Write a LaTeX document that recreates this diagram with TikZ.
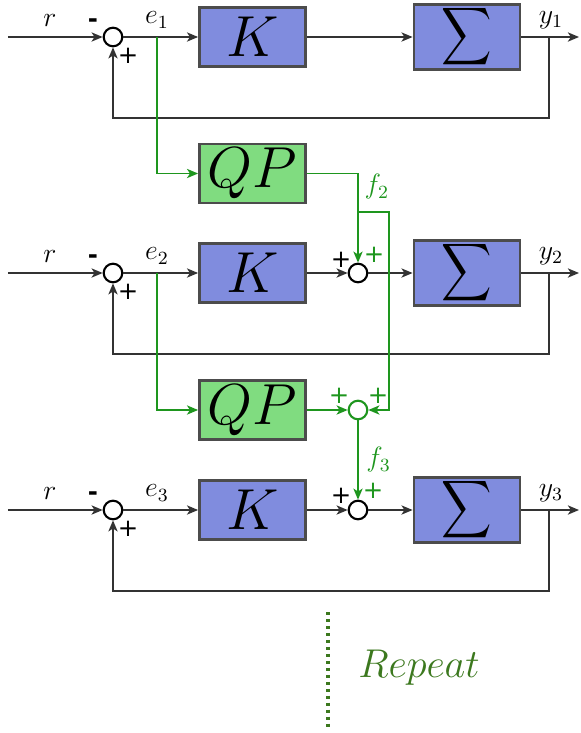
\documentclass[tikz,border=0pt]{standalone}
\usepackage{amsmath}
\usepackage{graphicx}
\usepackage{xcolor}
\usepackage{fontspec}
\usepackage{tikz}
\usetikzlibrary{arrows.meta,positioning}

\newfontfamily\signfont{DejaVu Sans}
\definecolor{blockblue}{RGB}{128,140,222}
\definecolor{qpgreen}{RGB}{128,220,128}
\definecolor{linegreen}{RGB}{30,150,30}
\definecolor{repgreen}{RGB}{60,120,30}
\newcommand{\plantsym}{\fontsize{16.3}{18}\selectfont\scalebox{0.87}[1]{$\displaystyle\sum$}}

\begin{document}
\begin{tikzpicture}[x=0.43pt, y=-0.43pt,
  block/.style={draw=black!70, line width=1.2pt, fill=blockblue,
    minimum width=45.6pt, minimum height=25.4pt, inner sep=0pt,
    font=\fontsize{25.8}{30}\selectfont},
  qpblock/.style={block, fill=qpgreen},
  sumnode/.style={circle, draw, line width=0.9pt, fill=white,
    minimum size=8pt, inner sep=0pt},
  gsum/.style={sumnode, draw=linegreen},
  arrow/.style={-{Stealth[length=4.8pt, width=4pt, inset=1.3pt]},
    line width=0.6pt, black!80},
  garrow/.style={arrow, linegreen},
  lbl/.style={font=\fontsize{12}{14}\selectfont},
  sgn/.style={font=\signfont\fontsize{10.5}{10.5}\selectfont, inner sep=0pt},
  msgn/.style={font=\signfont\bfseries\fontsize{10.5}{10.5}\selectfont, inner sep=0pt},
]

\useasboundingbox (0,0) rectangle (581,733);

% row 1
\coordinate (in1) at (8,37);
\node[sumnode] (sa1) at (113,37) {};
\node[block] (k1) at (252.5,37) {$K$};
\node[block] (g1) at (467,37) {\plantsym};
\coordinate (out1) at (579,37);
\coordinate (fb1) at (549,37);
\coordinate (br1) at (157,37);

\draw[arrow] (in1) -- (sa1);
\draw[arrow] (sa1) -- (k1);
\draw[arrow] (k1) -- (g1);
\draw[arrow] (g1) -- (out1);
\draw[arrow] (fb1) -- ++(0,81) -| (sa1);

\node[lbl] (r1) at (50,20) {$r$};
\node[lbl] (e1) at (157,20) {$e_1$};
\node[lbl] (y1) at (551,20) {$y_1$};
\node[msgn] (m1) at (93,23) {-};
\node[sgn] (p1) at (128,56) {+};

% QP 1
\node[qpblock] (qp1) at (252.5,173.5) {$QP$};
\draw[garrow] (br1) |- (qp1);
\coordinate (j2) at (358,212);

% row 2
\coordinate (in2) at (8,273);
\node[sumnode] (sa2) at (113,273) {};
\node[block] (k2) at (252.5,273) {$K$};
\node[sumnode] (sb2) at (358,273) {};
\node[block] (g2) at (467,273) {\plantsym};
\coordinate (out2) at (579,273);
\coordinate (fb2) at (549,273);
\coordinate (br2) at (157,273);

\draw[arrow] (in2) -- (sa2);
\draw[arrow] (sa2) -- (k2);
\draw[arrow] (k2) -- (sb2);
\draw[arrow] (sb2) -- (g2);
\draw[arrow] (g2) -- (out2);
\draw[arrow] (fb2) -- ++(0,81) -| (sa2);
\draw[garrow] (qp1) -| (sb2);

\node[lbl] (r2) at (50,256) {$r$};
\node[lbl] (e2) at (157,256) {$e_2$};
\node[lbl] (y2) at (551,256) {$y_2$};
\node[lbl, text=linegreen] (f2) at (377,187) {$f_2$};
\node[msgn] (m2) at (93,259) {-};
\node[sgn] (p2) at (128,292) {+};
\node[sgn] (p2b) at (341,260) {+};
\node[sgn, text=linegreen] (p2c) at (374,255) {+};

% QP 2
\node[qpblock] (qp2) at (252.5,410) {$QP$};
\node[gsum] (sc) at (358,410) {};
\draw[garrow] (br2) |- (qp2);
\draw[garrow] (qp2) -- (sc);
\draw[garrow] (j2) -- ++(31,0) |- (sc);
\node[sgn, text=linegreen] (pc1) at (339,396) {+};
\node[sgn, text=linegreen] (pc2) at (378,396) {+};

% row 3
\coordinate (in3) at (8,510);
\node[sumnode] (sa3) at (113,510) {};
\node[block] (k3) at (252.5,510) {$K$};
\node[sumnode] (sb3) at (358,510) {};
\node[block] (g3) at (467,510) {\plantsym};
\coordinate (out3) at (579,510);
\coordinate (fb3) at (549,510);

\draw[arrow] (in3) -- (sa3);
\draw[arrow] (sa3) -- (k3);
\draw[arrow] (k3) -- (sb3);
\draw[arrow] (sb3) -- (g3);
\draw[arrow] (g3) -- (out3);
\draw[arrow] (fb3) -- ++(0,81) -| (sa3);
\draw[garrow] (sc) -- node[right, lbl, text=linegreen] {$f_3$} (sb3);

\node[lbl] (r3) at (50,493) {$r$};
\node[lbl] (e3) at (157,493) {$e_3$};
\node[lbl] (y3) at (551,493) {$y_3$};
\node[msgn] (m3) at (93,496) {-};
\node[sgn] (p3) at (128,529) {+};
\node[sgn] (p3b) at (341,496) {+};
\node[sgn, text=linegreen] (p3c) at (373,491) {+};

% repeat
\coordinate (dtop) at (328,612);
\coordinate (dbot) at (328,728);
\draw[repgreen, line width=1.5pt, dash pattern=on 1.5pt off 1.5pt] (dtop) -- (dbot);
\node[font=\fontsize{18.9}{22}\selectfont, text=repgreen] (rep) at (419,668) {$Repeat$};

\end{tikzpicture}
\end{document}
